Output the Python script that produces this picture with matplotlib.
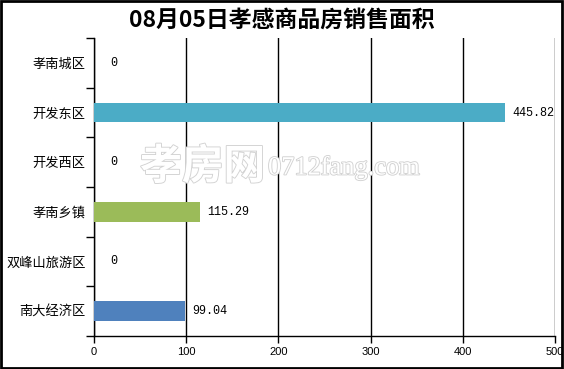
import matplotlib
matplotlib.use('Agg')
from matplotlib import pyplot as plt
from matplotlib import patheffects
from matplotlib.patches import Rectangle

# Chart data
categories: [str] = ['孝南城区', '开发东区', '开发西区', '孝南乡镇', '双峰山旅游区', '南大经济区']
areas: [float] = [0, 445.82, 0, 115.29, 0, 99.04]
value_labels: [str] = ['0', '445.82', '0', '115.29', '0', '99.04']
colors: [str] = ['#4BACC6', '#4BACC6', '#4BACC6', '#9BBB59', '#4F81BD', '#4F81BD']
x_ticks: [int] = [0, 100, 200, 300, 400, 500]

title: str = '08月05日孝感商品房销售面积'

plt.rcParams['font.family'] = ['Noto Sans CJK SC', 'DejaVu Sans']

fig = plt.figure(figsize=(5.64, 3.69), dpi=100)
ax = fig.add_axes([94 / 564, 1 - 336 / 369, (555 - 94) / 564, (336 - 38) / 369])

n = len(categories)
ypos = list(range(n))[::-1]

ax.barh(ypos, areas, height=0.4, color=colors, zorder=3)

# Value labels at bar ends
for y, v, lab in zip(ypos, areas, value_labels):
    off = 16 if v == 0 else 7
    ax.annotate(lab, (v, y), xytext=(off, 0), textcoords='offset pixels',
                va='center', ha='left', fontsize=8.5,
                family=['Liberation Mono', 'DejaVu Sans Mono'], zorder=4)

ax.set_xlim(0, 500)
ax.set_ylim(-0.5, n - 0.5)
ax.set_xticks(x_ticks)
ax.set_xticklabels([str(t) for t in x_ticks], fontsize=8,
                   family=['Liberation Sans Narrow', 'Liberation Sans'])

# Category labels centred, ticks on category boundaries
ax.set_yticks(ypos)
ax.set_yticklabels(categories, fontsize=9.5)
ax.tick_params(axis='y', which='major', length=0, pad=6)
ax.set_yticks([i - 0.5 for i in range(n + 1)], minor=True)
ax.tick_params(axis='y', which='minor', length=6, width=1, color='black')
ax.tick_params(axis='x', length=5, width=1, color='black', pad=3)

ax.grid(axis='x', color='black', linewidth=1, zorder=1)
ax.set_axisbelow(True)
for s in ['top', 'right']:
    ax.spines[s].set_visible(False)
for s in ['left', 'bottom']:
    ax.spines[s].set_color('black')
    ax.spines[s].set_linewidth(1)

# Watermark
wm_fx = [patheffects.withStroke(linewidth=1.3, foreground='#d2d2d2')]
fig.text(265 / 564, 1 - 167 / 369, '孝房网', fontsize=30, fontweight='bold', color='white',
         ha='right', va='center', path_effects=wm_fx, zorder=5)
fig.text(268 / 564, 1 - 168 / 369, '0712fang.com', fontsize=19, color='white',
         ha='left', va='center', family=['Liberation Serif', 'DejaVu Serif'],
         path_effects=wm_fx, zorder=5)

fig.text(0.5, 1 - 20 / 369, title, ha='center', va='center', fontsize=16.5, fontweight='bold')

# Outer border
fig.add_artist(Rectangle((0.002, 0.003), 0.995, 0.994, transform=fig.transFigure,
                         fill=False, edgecolor='black', linewidth=2))

plt.savefig('out.png', dpi=100)
